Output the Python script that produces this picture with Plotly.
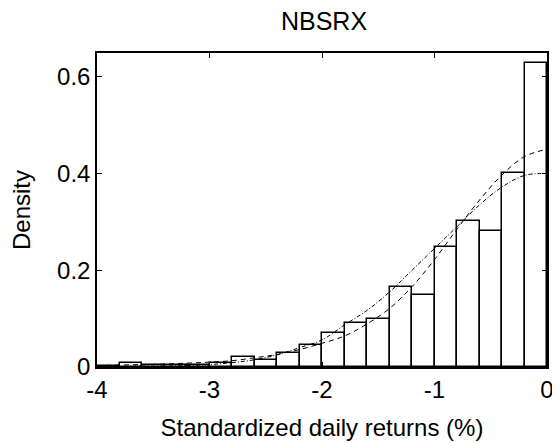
import plotly.graph_objects as go

# Histogram (bin width 0.2 from -4 to 0)
bin_centers = [-3.9, -3.7, -3.5, -3.3, -3.1, -2.9, -2.7, -2.5, -2.3, -2.1,
               -1.9, -1.7, -1.5, -1.3, -1.1, -0.9, -0.7, -0.5, -0.3, -0.1]
bin_density = [0.003, 0.008, 0.004, 0.004, 0.005, 0.008, 0.021, 0.014, 0.029, 0.046,
               0.070, 0.091, 0.099, 0.166, 0.149, 0.248, 0.302, 0.281, 0.400, 0.628]

# Fitted density curves
curve_x = [-4.0, -3.8, -3.6, -3.4, -3.2, -3.0, -2.8, -2.6, -2.4, -2.2, -2.0,
           -1.8, -1.6, -1.4, -1.2, -1.0, -0.8, -0.6, -0.4, -0.2, 0.0]
dashed_y = [0.003, 0.004, 0.005, 0.006, 0.008, 0.010, 0.013, 0.019, 0.026, 0.036, 0.049,
            0.064, 0.089, 0.121, 0.166, 0.222, 0.285, 0.345, 0.397, 0.435, 0.450]
dashdot_y = [0.001, 0.001, 0.002, 0.002, 0.003, 0.005, 0.009, 0.015, 0.025, 0.040, 0.056,
             0.087, 0.117, 0.155, 0.200, 0.245, 0.290, 0.335, 0.372, 0.396, 0.400]

x_ticks = [-4, -3, -2, -1, 0]
x_tick_text = ["-4", "-3", "-2", "-1", "0"]
y_ticks = [0, 0.2, 0.4, 0.6]
y_tick_text = ["0", "0.2", "0.4", "0.6"]

FONT = "Liberation Sans, Arial, sans-serif"

fig = go.Figure()
fig.add_trace(go.Bar(x=bin_centers, y=bin_density, width=0.2,
                     marker=dict(color="white", line=dict(color="black", width=1.5)),
                     showlegend=False))
fig.add_trace(go.Scatter(x=curve_x, y=dashdot_y, mode="lines", line_shape="spline",
                         line=dict(color="black", width=1, dash="4px,2px,1px,2px"),
                         showlegend=False))
fig.add_trace(go.Scatter(x=curve_x, y=dashed_y, mode="lines", line_shape="spline",
                         line=dict(color="black", width=1, dash="5px,4px"),
                         showlegend=False))

# page body has an 8px margin, so the figure is sized to fit the 560x443 window
fig.update_layout(
    width=552, height=435,
    margin=dict(l=89, r=6, t=45, b=76),
    paper_bgcolor="white", plot_bgcolor="white",
    font=dict(family=FONT, size=24, color="black"),
    bargap=0,
    title=dict(text="NBSRX", x=(324 - 8) / 552, xanchor="center", xref="container",
               y=1 - 13.5 / 435, yanchor="middle", yref="container",
               font=dict(family=FONT, size=25, color="black")),
    xaxis=dict(range=[-4, 0], tickvals=x_ticks, ticktext=x_tick_text,
               ticks="inside", ticklen=5, tickwidth=1, tickcolor="black",
               showline=True, linecolor="black", linewidth=1.5, mirror="allticks",
               showgrid=False, zeroline=False,
               title=dict(text="Standardized daily returns (%)", standoff=18,
                          font=dict(family=FONT, size=24))),
    yaxis=dict(range=[0, 0.649], tickvals=y_ticks, ticktext=y_tick_text,
               ticks="inside", ticklen=5, tickwidth=1, tickcolor="black",
               showline=True, linecolor="black", linewidth=1.5, mirror="allticks",
               showgrid=False, zeroline=False,
               title=dict(text="Density", standoff=22,
                          font=dict(family=FONT, size=24))),
)
fig.write_html("out.html")
